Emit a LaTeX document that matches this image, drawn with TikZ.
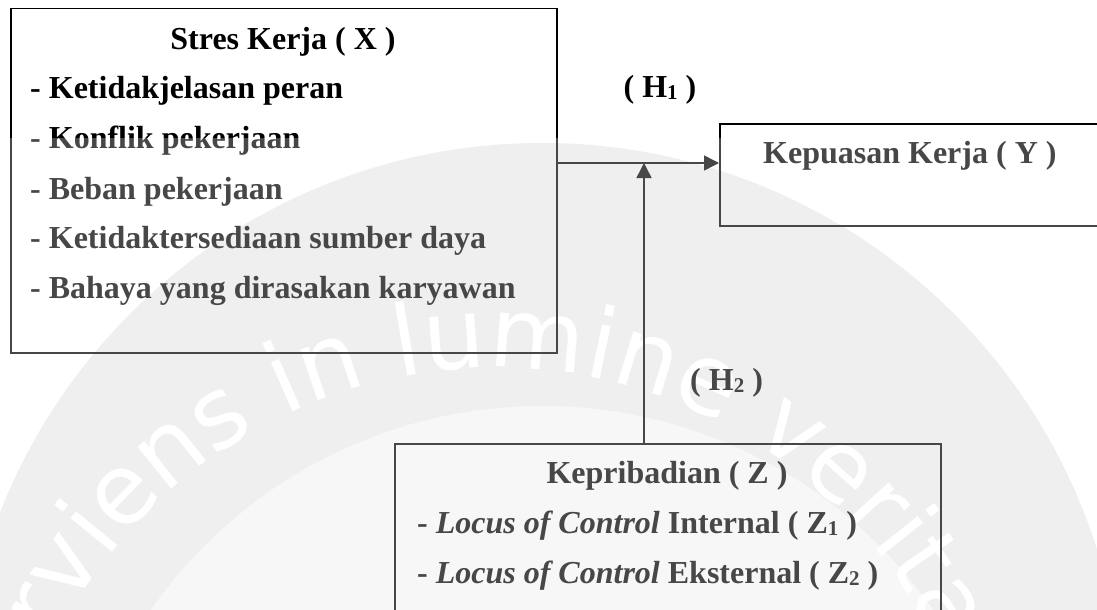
\documentclass[tikz,border=0pt]{standalone}
\usepackage{fontspec}
\setmainfont{Liberation Serif}
\newfontfamily\wmfont{DejaVu Sans}
\usetikzlibrary{arrows.meta,decorations.text}
\definecolor{ringgray}{gray}{0.913}
\definecolor{innergray}{gray}{0.961}
\newcommand{\sbs}[1]{\raisebox{-0.08em}{\fontsize{21}{21}\selectfont #1}}
\begin{document}
\begin{tikzpicture}[x=1pt,y=-1pt,
  box/.style={draw=black, line width=1.5pt, rectangle, inner sep=0pt},
  lbl/.style={font=\fontsize{32}{32}\selectfont\bfseries, inner sep=0pt, text=black},
  arr/.style={line width=1.5pt, -{Triangle[length=15pt,width=15pt]}},
]
\clip (0,0) rectangle (1097,610);
\useasboundingbox (0,0) rectangle (1097,610);
\fill[white] (0,0) rectangle (1097,610);
% watermark
\fill[ringgray] (542,725) circle[radius=582];
\fill[innergray] (542,883) circle[radius=477];
\path[decorate, decoration={text along path, text align=center,
  text={|\wmfont\fontsize{98}{98}\selectfont\color{white}|Serviens in lumine veritatis}}]
  (495,858) ++(-174.5:490) arc[start angle=-174.5, end angle=-5.5, radius=490];
% boxes
\node[box, anchor=north west, minimum width=546pt, minimum height=344pt] (X) at (10,8) {};
\node[box, anchor=north west, minimum width=420pt, minimum height=102pt] (Y) at (719,123) {};
\node[box, anchor=north west, minimum width=546pt, minimum height=220pt] (Z) at (394,443) {};
% texts
\node[lbl, anchor=base] (xt) at (283,50) {Stres Kerja ( X )};
\node[lbl, anchor=base west] (x1) at (30,98) {- Ketidakjelasan peran};
\node[lbl, anchor=base west] (x2) at (30,148) {- Konflik pekerjaan};
\node[lbl, anchor=base west] (x3) at (30,199) {- Beban pekerjaan};
\node[lbl, anchor=base west] (x4) at (30,248) {- Ketidaktersediaan sumber daya};
\node[lbl, anchor=base west] (x5) at (30,298) {- Bahaya yang dirasakan karyawan};
\node[lbl, anchor=base] (h1) at (660,97) {( H\sbs{1} )};
\node[lbl, anchor=base west] (yt) at (763,163) {Kepuasan Kerja ( Y )};
\node[lbl, anchor=base west] (h2) at (690,390) {( H\sbs{2} )};
\node[lbl, anchor=base] (zt) at (667,483) {Kepribadian ( Z )};
\node[lbl, anchor=base west] (z1) at (417,533) {- \textit{Locus of Control} Internal ( Z\sbs{1} )};
\node[lbl, anchor=base west] (z2) at (417,583) {- \textit{Locus of Control} Eksternal ( Z\sbs{2} )};
% connectors
\coordinate (h) at (0,163);
\coordinate (v) at (644,0);
\draw[arr] (X.east |- h) -- (Y.west |- h);
\draw[arr] (Z.north -| v) -- (v |- h);
% lightening layer of the lower part
\fill[white, opacity=0.28] (0,138) rectangle (1097,610);
\end{tikzpicture}
\end{document}
